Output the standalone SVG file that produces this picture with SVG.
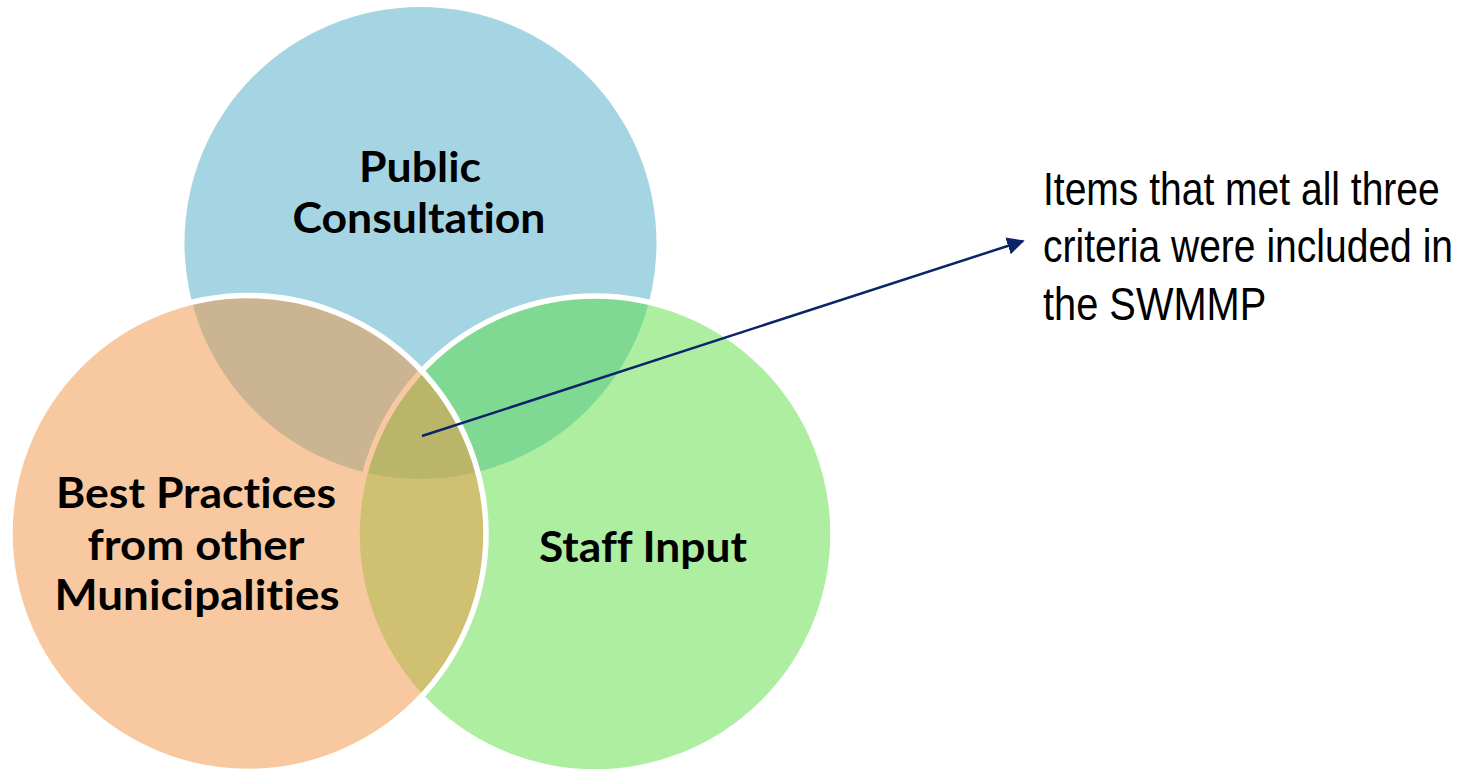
<svg xmlns="http://www.w3.org/2000/svg" width="1468" height="769" viewBox="0 0 1468 769">
  <defs>
    <style>
      .lbl { font-family: Lato, "Open Sans", "Liberation Sans", sans-serif; font-weight: 700; font-size: 42px; fill: #000; text-anchor: middle; font-variant-ligatures: none; }
      .note { font-family: "Liberation Sans", Arial, sans-serif; font-size: 47px; fill: #000; }
      .circ { fill-opacity: 0.5; }
      .edge { stroke: #FFFFFF; stroke-width: 5.5; }
    </style>
    <marker id="arrow" viewBox="0 0 10 10" refX="9" refY="5" markerWidth="7" markerHeight="7" markerUnits="strokeWidth" orient="auto">
      <path d="M0,0 L10,5 L0,10 z" fill="#0C2468"/>
    </marker>
  </defs>
  <rect x="0" y="0" width="1468" height="769" fill="#FFFFFF"/>

  <g id="public-consultation">
    <circle class="circ" cx="420.5" cy="243" r="236" fill="#4BABC5"/>
  </g>
  <g id="staff-input">
    <circle class="circ edge" cx="595" cy="534" r="238" fill="#5CDD41"/>
  </g>
  <g id="best-practices">
    <circle class="circ edge" cx="248" cy="533.5" r="238" fill="#F19341"/>
  </g>

  <g id="labels">
    <text class="lbl" x="420" y="182" textLength="122" lengthAdjust="spacingAndGlyphs">Public</text>
    <text class="lbl" x="419" y="233" textLength="253" lengthAdjust="spacingAndGlyphs">Consultation</text>
    <text class="lbl" x="196" y="508" textLength="280" lengthAdjust="spacingAndGlyphs">Best Practices</text>
    <text class="lbl" x="196" y="560" textLength="217" lengthAdjust="spacingAndGlyphs">from other</text>
    <text class="lbl" x="197" y="610" textLength="285" lengthAdjust="spacingAndGlyphs">Municipalities</text>
    <text class="lbl" x="643" y="562" textLength="208" lengthAdjust="spacingAndGlyphs">Staff Input</text>
  </g>

  <g id="connectors">
    <line x1="422" y1="436" x2="1023" y2="241" stroke="#0C2468" stroke-width="2.5" marker-end="url(#arrow)"/>
  </g>

  <g id="note" transform="translate(1043,0) scale(0.83,1)">
    <text class="note" x="0" y="205" textLength="478" lengthAdjust="spacingAndGlyphs">Items that met all three</text>
    <text class="note" x="0" y="262" textLength="494" lengthAdjust="spacingAndGlyphs">criteria were included in</text>
    <text class="note" x="0" y="320" textLength="269" lengthAdjust="spacingAndGlyphs">the SWMMP</text>
  </g>
</svg>
